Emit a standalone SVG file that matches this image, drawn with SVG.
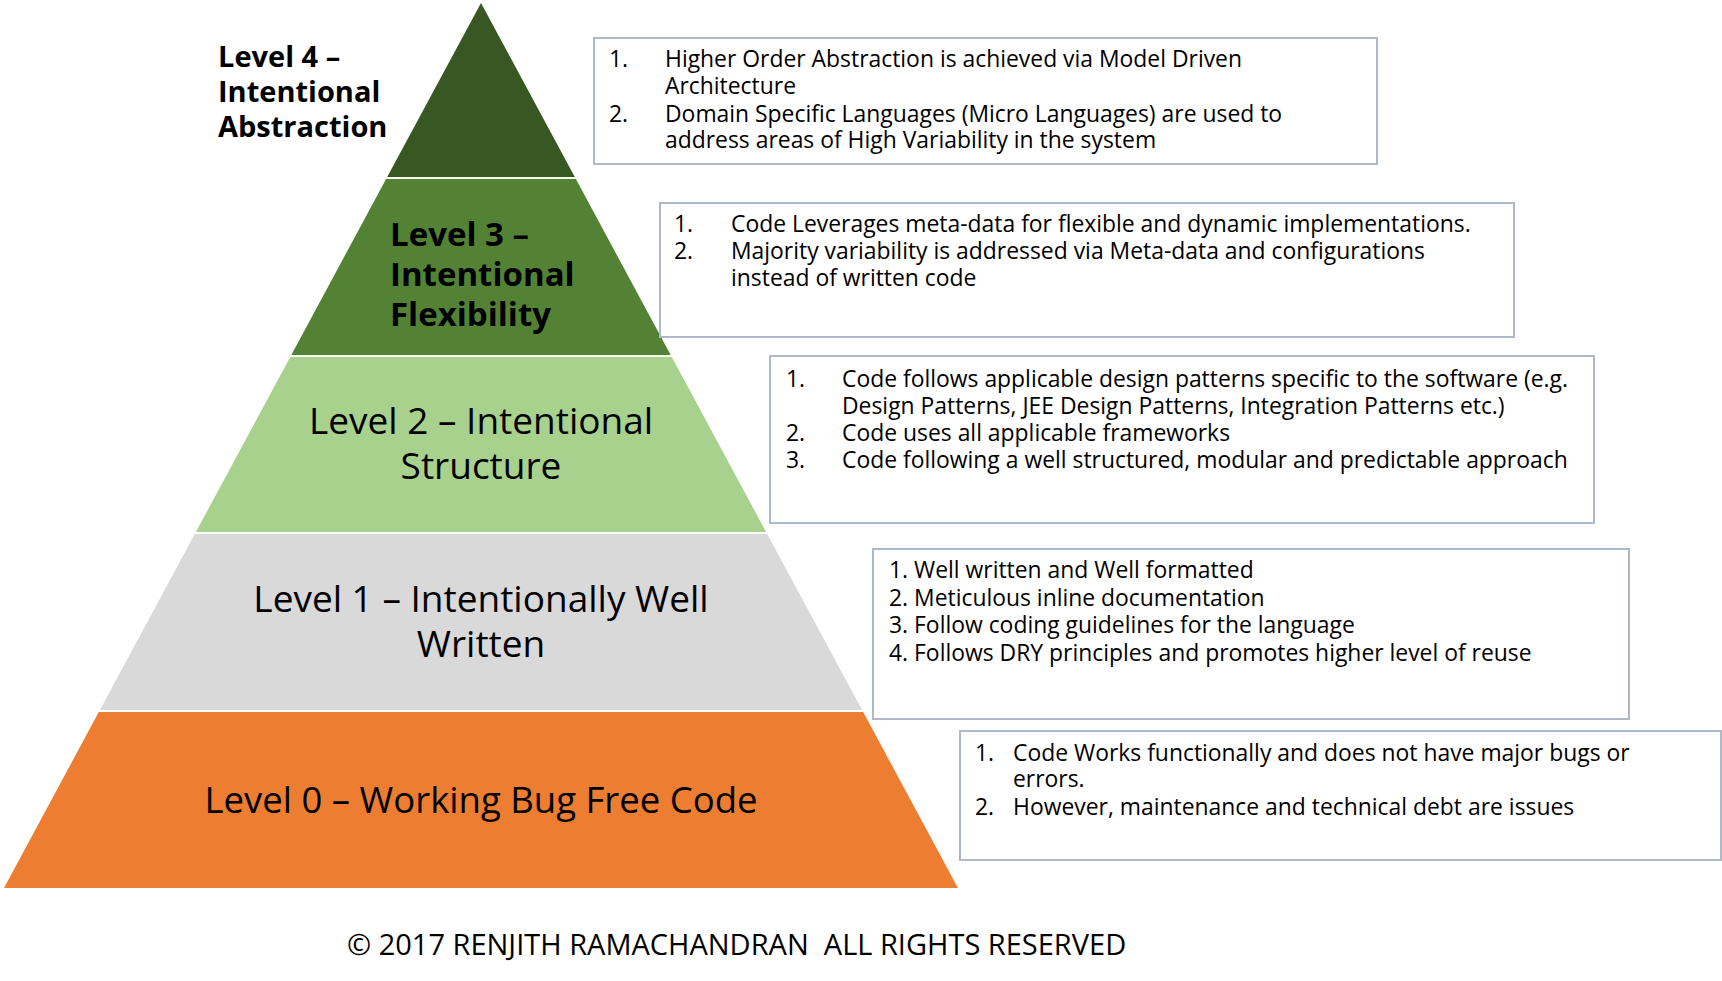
<svg xmlns="http://www.w3.org/2000/svg" width="1722" height="981" viewBox="0 0 1722 981">
<style>
.box{fill:#fff;stroke:#ADB9CA;stroke-width:2}
.t{font-family:"Open Sans","Liberation Sans",sans-serif;font-size:22.9px;fill:#000}
.lv{font-family:"Open Sans","Liberation Sans",sans-serif;fill:#000}
.b{font-weight:bold}
</style>
<rect width="1722" height="981" fill="#fff"/>
<g id="level4">
<polygon points="481,3 574.8,177 387.2,177" fill="#385723"/>
<text class="lv b" font-size="29" x="218" y="67">Level 4 –</text>
<text class="lv b" font-size="29" x="218" y="102">Intentional</text>
<text class="lv b" font-size="29" x="218" y="137">Abstraction</text>
</g>
<g id="level3">
<polygon points="386.1,179 575.9,179 670.7,355 291.3,355" fill="#548235"/>
<text class="lv b" font-size="33" x="390" y="246">Level 3 –</text>
<text class="lv b" font-size="33" x="390" y="286">Intentional</text>
<text class="lv b" font-size="33" x="390" y="326">Flexibility</text>
</g>
<g id="level2">
<polygon points="290.2,357 671.8,357 766.1,532 195.9,532" fill="#A9D18E"/>
<text class="lv" font-size="37" x="481" y="434" text-anchor="middle">Level 2 – Intentional</text>
<text class="lv" font-size="37" x="481" y="479" text-anchor="middle">Structure</text>
</g>
<g id="level1">
<polygon points="194.8,534 767.2,534 862.1,710 99.9,710" fill="#D9D9D9"/>
<text class="lv" font-size="37" x="481" y="612" text-anchor="middle">Level 1 – Intentionally Well</text>
<text class="lv" font-size="37" x="481" y="657" text-anchor="middle">Written</text>
</g>
<g id="level0">
<polygon points="98.8,712 863.2,712 958,888 4,888" fill="#ED7D31"/>
<text class="lv" font-size="36.5" x="481" y="813" text-anchor="middle">Level 0 – Working Bug Free Code</text>
</g>
<g id="box4">
<rect class="box" x="594" y="38" width="783" height="126"/>
<text class="t" x="609" y="67">1.</text>
<text class="t" x="665" y="67">Higher Order Abstraction is achieved via Model Driven</text>
<text class="t" x="665" y="94">Architecture</text>
<text class="t" x="609" y="122">2.</text>
<text class="t" x="665" y="122">Domain Specific Languages (Micro Languages) are used to</text>
<text class="t" x="665" y="148">address areas of High Variability in the system</text>
</g>
<g id="box3">
<rect class="box" x="660" y="203" width="854" height="134"/>
<text class="t" x="674" y="232">1.</text>
<text class="t" x="731" y="232">Code Leverages meta-data for flexible and dynamic implementations.</text>
<text class="t" x="674" y="259">2.</text>
<text class="t" x="731" y="259">Majority variability is addressed via Meta-data and configurations</text>
<text class="t" x="731" y="286">instead of written code</text>
</g>
<g id="box2">
<rect class="box" x="770" y="356" width="824" height="167"/>
<text class="t" x="786" y="387">1.</text>
<text class="t" x="842" y="387">Code follows applicable design patterns specific to the software (e.g.</text>
<text class="t" x="842" y="414">Design Patterns, JEE Design Patterns, Integration Patterns etc.)</text>
<text class="t" x="786" y="441">2.</text>
<text class="t" x="842" y="441">Code uses all applicable frameworks</text>
<text class="t" x="786" y="468">3.</text>
<text class="t" x="842" y="468">Code following a well structured, modular and predictable approach</text>
</g>
<g id="box1">
<rect class="box" x="873" y="549" width="756" height="170"/>
<text class="t" x="889" y="578">1. Well written and Well formatted</text>
<text class="t" x="889" y="606">2. Meticulous inline documentation</text>
<text class="t" x="889" y="633">3. Follow coding guidelines for the language</text>
<text class="t" x="889" y="661">4. Follows DRY principles and promotes higher level of reuse</text>
</g>
<g id="box0">
<rect class="box" x="960" y="731" width="761" height="129"/>
<text class="t" x="975" y="761">1.</text>
<text class="t" x="1013" y="761">Code Works functionally and does not have major bugs or</text>
<text class="t" x="1013" y="787">errors.</text>
<text class="t" x="975" y="815">2.</text>
<text class="t" x="1013" y="815">However, maintenance and technical debt are issues</text>
</g>
<g id="connectors"></g>
<text class="lv" font-size="29" x="347" y="955" xml:space="preserve">© 2017 RENJITH RAMACHANDRAN  ALL RIGHTS RESERVED</text>
</svg>
